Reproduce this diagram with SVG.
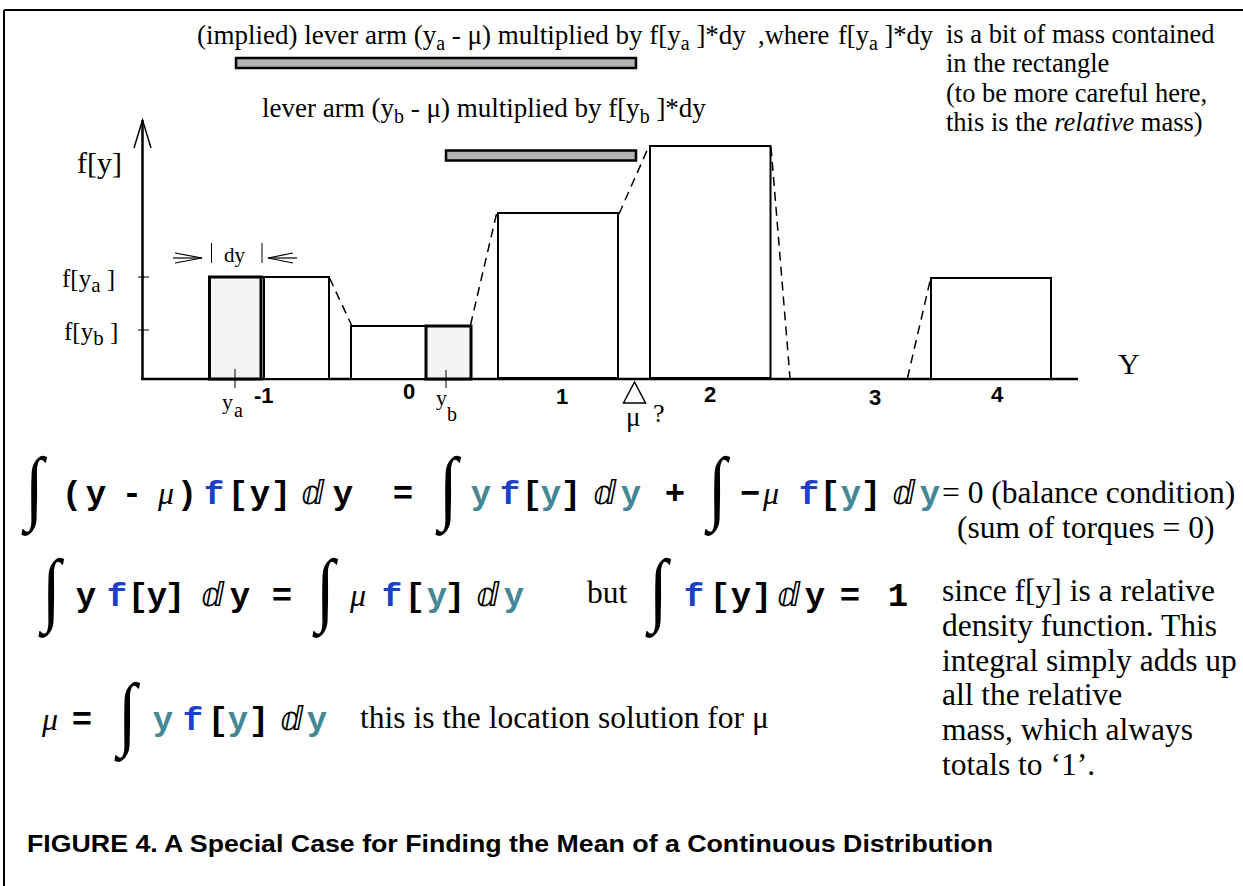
<svg xmlns="http://www.w3.org/2000/svg" width="1243" height="886" viewBox="0 0 1243 886">
<style>
.tm{font-family:"Liberation Serif","Times New Roman",serif;fill:#000}
.ar{font-family:"Liberation Sans",Arial,sans-serif;font-weight:bold;fill:#000}
.cm{font-family:"Liberation Mono","Courier New",monospace;font-weight:bold;font-size:34px;text-anchor:middle;fill:#000}
.dd{font-family:"DejaVu Sans",sans-serif;font-weight:normal;font-size:33px;text-anchor:middle;fill:#000}
.mu{font-family:"Liberation Serif","Times New Roman",serif;font-weight:normal;font-style:italic;font-size:32px;text-anchor:middle;fill:#000}
.int{font-family:"Liberation Serif","Times New Roman",serif;font-size:80px;fill:#000}
.b{fill:#1c3fc8}
.t{fill:#468796}
.bar{fill:#fff;stroke:#000;stroke-width:2}
.sh{fill:#f4f4f4;stroke:#000;stroke-width:3}
.lev{fill:#b3b3b3;stroke:#000;stroke-width:2.5}
.dash{stroke:#000;stroke-width:1.5;stroke-dasharray:9 6;fill:none}
.ln{stroke:#000;fill:none}
</style>

<g id="frame">
<line class="ln" x1="4" y1="10" x2="1243" y2="10" stroke-width="2"/>
<line class="ln" x1="4" y1="10" x2="4" y2="886" stroke-width="2"/>
</g>

<g id="top-text">
<text class="tm" x="197" y="44" font-size="27">(implied) lever arm (y<tspan dy="6" font-size="20">a</tspan><tspan dy="-6"> - μ) multiplied by f[y</tspan><tspan dy="6" font-size="20">a</tspan><tspan dy="-6"> ]*dy</tspan></text>
<text class="tm" x="758" y="44" font-size="26.5">,where</text>
<text class="tm" x="838" y="44" font-size="26.5">f[y<tspan dy="6" font-size="20">a</tspan><tspan dy="-6"> ]*dy</tspan></text>
<text class="tm" x="946" y="43" font-size="26.5">is a bit of mass contained</text>
<text class="tm" x="946" y="72" font-size="26.5">in the rectangle</text>
<text class="tm" x="946" y="102" font-size="26.5">(to be more careful here,</text>
<text class="tm" x="946" y="131" font-size="26.5">this is the <tspan font-style="italic">relative</tspan> mass)</text>
<text class="tm" x="262" y="117" font-size="27">lever arm (y<tspan dy="6" font-size="20">b</tspan><tspan dy="-6"> - μ) multiplied by f[y</tspan><tspan dy="6" font-size="20">b</tspan><tspan dy="-6"> ]*dy</tspan></text>
</g>

<g id="lever-arms">
<rect class="lev" x="236" y="58" width="400" height="10"/>
<rect class="lev" x="446" y="150.5" width="190" height="10"/>
</g>

<g id="axes">
<line class="ln" x1="142.5" y1="120" x2="142.5" y2="380" stroke-width="2.5"/>
<line class="ln" x1="141" y1="379" x2="1078" y2="379" stroke-width="2.5"/>
<polyline class="ln" points="134,148 142.5,120 151,148" stroke-width="1.5"/>
<line class="ln" x1="138" y1="277" x2="149" y2="277" stroke-width="1"/>
<line class="ln" x1="138" y1="330" x2="149" y2="330" stroke-width="1"/>
<text class="tm" x="77" y="173" font-size="30">f[y]</text>
<text class="tm" x="62" y="287" font-size="25">f[y<tspan dy="5" font-size="21">a</tspan><tspan dy="-5"> ]</tspan></text>
<text class="tm" x="64" y="340" font-size="25">f[y<tspan dy="5" font-size="21">b</tspan><tspan dy="-5"> ]</tspan></text>
<text class="tm" x="1118" y="374" font-size="30">Y</text>
</g>

<g id="bar-m1">
<rect class="bar" x="209.5" y="277" width="119.5" height="102"/>
<rect class="sh" x="209.5" y="277" width="51.5" height="102"/>
<line class="ln" x1="264" y1="277" x2="264" y2="379" stroke-width="2"/>
</g>
<g id="bar-0">
<rect class="bar" x="351" y="326" width="120" height="53"/>
<rect class="sh" x="426" y="326" width="45" height="53"/>
</g>
<g id="bar-1"><rect class="bar" x="498" y="213" width="120" height="165"/></g>
<g id="bar-2"><rect class="bar" x="650" y="146" width="120.5" height="232"/></g>
<g id="bar-4"><rect class="bar" x="931" y="278" width="120" height="101"/></g>

<g id="connectors">
<line class="dash" x1="329.5" y1="278" x2="351.5" y2="325"/>
<line class="dash" x1="470.5" y1="325" x2="496.5" y2="214"/>
<line class="dash" x1="619" y1="214" x2="649" y2="146"/>
<line class="dash" x1="771" y1="147" x2="790" y2="378"/>
<line class="dash" x1="907.5" y1="378" x2="930.5" y2="279"/>
</g>

<g id="dy-marker">
<line class="ln" x1="173" y1="258" x2="202" y2="258" stroke-width="1.2"/>
<polyline class="ln" points="175,253 202,258 175,263" stroke-width="1.2"/>
<line class="ln" x1="211.5" y1="243" x2="211.5" y2="263" stroke-width="1"/>
<line class="ln" x1="262" y1="243" x2="262" y2="263" stroke-width="1"/>
<line class="ln" x1="268" y1="258" x2="297" y2="258" stroke-width="1.2"/>
<polyline class="ln" points="293,253 268,258 293,263" stroke-width="1.2"/>
<text class="tm" x="224" y="262" font-size="21">dy</text>
</g>

<g id="x-labels">
<line class="ln" x1="235" y1="369" x2="235" y2="388" stroke-width="1"/>
<line class="ln" x1="446" y1="370" x2="446" y2="388" stroke-width="1"/>
<text class="tm" x="222" y="409" font-size="22">y</text>
<text class="tm" x="234" y="417" font-size="20">a</text>
<text class="tm" x="436" y="405" font-size="22">y</text>
<text class="tm" x="447" y="421" font-size="20">b</text>
<text class="ar" x="254" y="403" font-size="22">-1</text>
<text class="ar" x="403" y="399" font-size="22">0</text>
<text class="ar" x="556" y="404" font-size="22">1</text>
<text class="ar" x="704" y="402" font-size="22">2</text>
<text class="ar" x="869" y="405" font-size="22">3</text>
<text class="ar" x="991" y="402" font-size="22">4</text>
<polygon class="ln" points="634.5,382 623.5,403 645.5,403" fill="#fff" stroke-width="1.5"/>
<text class="tm" x="626" y="426" font-size="27">μ</text>
<text class="tm" x="653" y="422" font-size="26">?</text>
</g>

<g id="equation-1">
<text class="int" transform="translate(25,514) scale(0.85,1.02)">∫</text>
<text class="int" transform="translate(439,514) scale(0.85,1.02)">∫</text>
<text class="int" transform="translate(708,514) scale(0.85,1.02)">∫</text>
<text class="cm" y="504"><tspan x="72">(</tspan><tspan x="96">y</tspan><tspan x="132">-</tspan><tspan class="mu" x="166">μ</tspan><tspan x="187">)</tspan><tspan class="b" x="214">f</tspan><tspan x="238">[</tspan><tspan x="260">y</tspan><tspan x="281">]</tspan><tspan class="dd" x="313">ⅆ</tspan><tspan x="343">y</tspan><tspan x="403">=</tspan><tspan class="t" x="481">y</tspan><tspan class="b" x="510">f</tspan><tspan x="532">[</tspan><tspan class="t" x="551">y</tspan><tspan x="571">]</tspan><tspan class="dd" x="605">ⅆ</tspan><tspan class="t" x="631">y</tspan><tspan x="675">+</tspan><tspan x="750">−</tspan><tspan class="mu" x="771">μ</tspan><tspan class="b" x="809">f</tspan><tspan x="830">[</tspan><tspan class="t" x="851">y</tspan><tspan x="871">]</tspan><tspan class="dd" x="904">ⅆ</tspan><tspan class="t" x="930">y</tspan></text>
<text class="tm" x="942" y="503" font-size="31.5">= 0 (balance condition)</text>
<text class="tm" x="957" y="538" font-size="31.5">(sum of torques = 0)</text>
</g>

<g id="equation-2">
<text class="int" transform="translate(42,616) scale(0.85,1.02)">∫</text>
<text class="int" transform="translate(316,616) scale(0.85,1.02)">∫</text>
<text class="int" transform="translate(649,616) scale(0.85,1.02)">∫</text>
<text class="cm" y="606"><tspan x="86">y</tspan><tspan class="b" x="117">f</tspan><tspan x="138">[</tspan><tspan x="157">y</tspan><tspan x="175">]</tspan><tspan class="dd" x="213">ⅆ</tspan><tspan x="240">y</tspan><tspan x="282">=</tspan><tspan class="mu" x="358">μ</tspan><tspan class="b" x="392">f</tspan><tspan x="415">[</tspan><tspan class="t" x="437">y</tspan><tspan x="455">]</tspan><tspan class="dd" x="488">ⅆ</tspan><tspan class="t" x="514">y</tspan></text>
<text class="tm" x="587" y="603" font-size="31.5">but</text>
<text class="cm" y="606"><tspan class="b" x="694">f</tspan><tspan x="720">[</tspan><tspan x="741">y</tspan><tspan x="762">]</tspan><tspan class="dd" x="789">ⅆ</tspan><tspan x="815">y</tspan><tspan x="850">=</tspan><tspan x="898">1</tspan></text>
</g>

<g id="note-density">
<text class="tm" x="942" y="601" font-size="31.5">since f[y] is a relative</text>
<text class="tm" x="942" y="636" font-size="31.5">density function. This</text>
<text class="tm" x="942" y="671" font-size="31.5">integral simply adds up</text>
<text class="tm" x="942" y="705" font-size="31.5">all the relative</text>
<text class="tm" x="942" y="740" font-size="31.5">mass, which always</text>
<text class="tm" x="942" y="775" font-size="31.5">totals to ‘1’.</text>
</g>

<g id="equation-3">
<text class="int" transform="translate(118,740) scale(0.85,1.02)">∫</text>
<text class="cm" y="730"><tspan class="mu" x="50">μ</tspan><tspan x="82">=</tspan><tspan class="t" x="163">y</tspan><tspan class="b" x="193">f</tspan><tspan x="218">[</tspan><tspan class="t" x="238">y</tspan><tspan x="259">]</tspan><tspan class="dd" x="292">ⅆ</tspan><tspan class="t" x="317">y</tspan></text>
<text class="tm" x="360" y="728" font-size="31.5">this is the location solution for μ</text>
</g>

<g id="caption">
<text class="ar" x="27" y="852" font-size="24.4" textLength="966" lengthAdjust="spacingAndGlyphs">FIGURE 4. A Special Case for Finding the Mean of a Continuous Distribution</text>
</g>
</svg>
